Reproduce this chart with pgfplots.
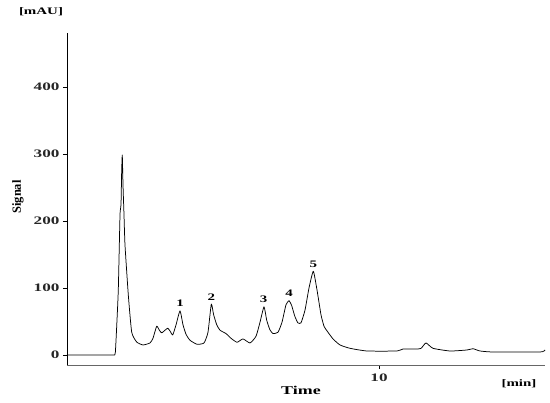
\documentclass[border=0pt]{standalone}
\usepackage{pgfplots}
\pgfplotsset{compat=1.18}
\usepackage{fontspec}
\setmainfont{Liberation Serif}
\newfontfamily\wide{Liberation Serif}[FakeStretch=1.5]
\begin{document}
\begin{tikzpicture}
\begin{axis}[
  at={(0,0)}, anchor=south west,
  scale only axis,
  width=478bp, height=332bp,
  xmin=0, xmax=15.32,
  ymin=-14.9, ymax=480.6,
  axis lines=left,
  axis line style={-},
  x axis line style={draw=gray!80!black, line width=0.8pt},
  y axis line style={draw=black, line width=0.8pt},
  xtick={10}, ytick={0,100,200,300,400},
  tick align=outside,
  major tick length=4bp,
  tick style={black, line width=0.6pt},
  /pgf/number format/assume math mode=true,
  tick label style={font=\wide\fontsize{11.5}{13}\selectfont\bfseries, text=black!85},
  xticklabel style={yshift=-1bp},
  clip=false,
]
  \addplot[black, line width=0.75pt, line join=round, smooth, tension=0.3] coordinates {
    (0,0) (1.45,0) (1.52,0) (1.55,4) (1.587,37) (1.644,97) (1.699,209) (1.731,224)
    (1.753,276) (1.772,298.5) (1.795,254) (1.827,209) (1.859,164)
    (1.965,89.6) (2.074,34) (2.234,19.4) (2.436,15) (2.660,18)
    (2.756,25) (2.875,43) (2.96,37) (3.035,33) (3.14,37) (3.228,40)
    (3.30,36) (3.388,30) (3.494,45)
    (3.622,66) (3.718,45) (3.814,31) (3.942,22) (4.167,16) (4.391,18)
    (4.519,34) (4.625,76) (4.70,60) (4.80,45) (4.904,37) (5.096,32) (5.256,25)
    (5.449,19) (5.641,24) (5.865,18) (6.058,28) (6.186,49) (6.314,72)
    (6.40,52) (6.50,38) (6.603,32) (6.763,34) (6.891,49) (7.019,75) (7.115,81)
    (7.20,74) (7.30,58) (7.40,48) (7.5,48) (7.628,67) (7.756,100) (7.894,125)
    (8.013,97) (8.141,60) (8.237,43) (8.333,36) (8.526,24) (8.75,15)
    (9.071,10) (9.615,6) (10.577,6) (10.77,9) (11.218,9) (11.35,10)
    (11.506,18) (11.731,10) (12.276,6) (12.82,7.5) (13.013,9.4)
    (13.237,6) (13.654,4.5) (15.16,4.5) (15.32,7.5)
  };
  \begin{scope}[every node/.style={font=\wide\fontsize{10}{11}\selectfont\bfseries, anchor=south, inner sep=1pt}]
    \node at (axis cs:3.622,70) {1};
    \node at (axis cs:4.625,80) {2};
    \node at (axis cs:6.300,76) {3};
    \node at (axis cs:7.115,85) {4};
    \node at (axis cs:7.894,129) {5};
  \end{scope}
\end{axis}
\node[font=\wide\fontsize{10}{11}\selectfont\bfseries] at (-26bp,353bp) {[mAU]};
\node[font=\fontsize{12.5}{14}\selectfont\bfseries, rotate=90] at (-49bp,168bp) {Signal};
\node[font=\wide\fontsize{12}{13}\selectfont\bfseries] at (234bp,-25bp) {Time};
\node[font=\wide\fontsize{10}{11}\selectfont\bfseries] at (452bp,-19bp) {[min]};
\path[use as bounding box] (-67bp,-38bp) rectangle (483bp,365bp);
\end{tikzpicture}
\end{document}
